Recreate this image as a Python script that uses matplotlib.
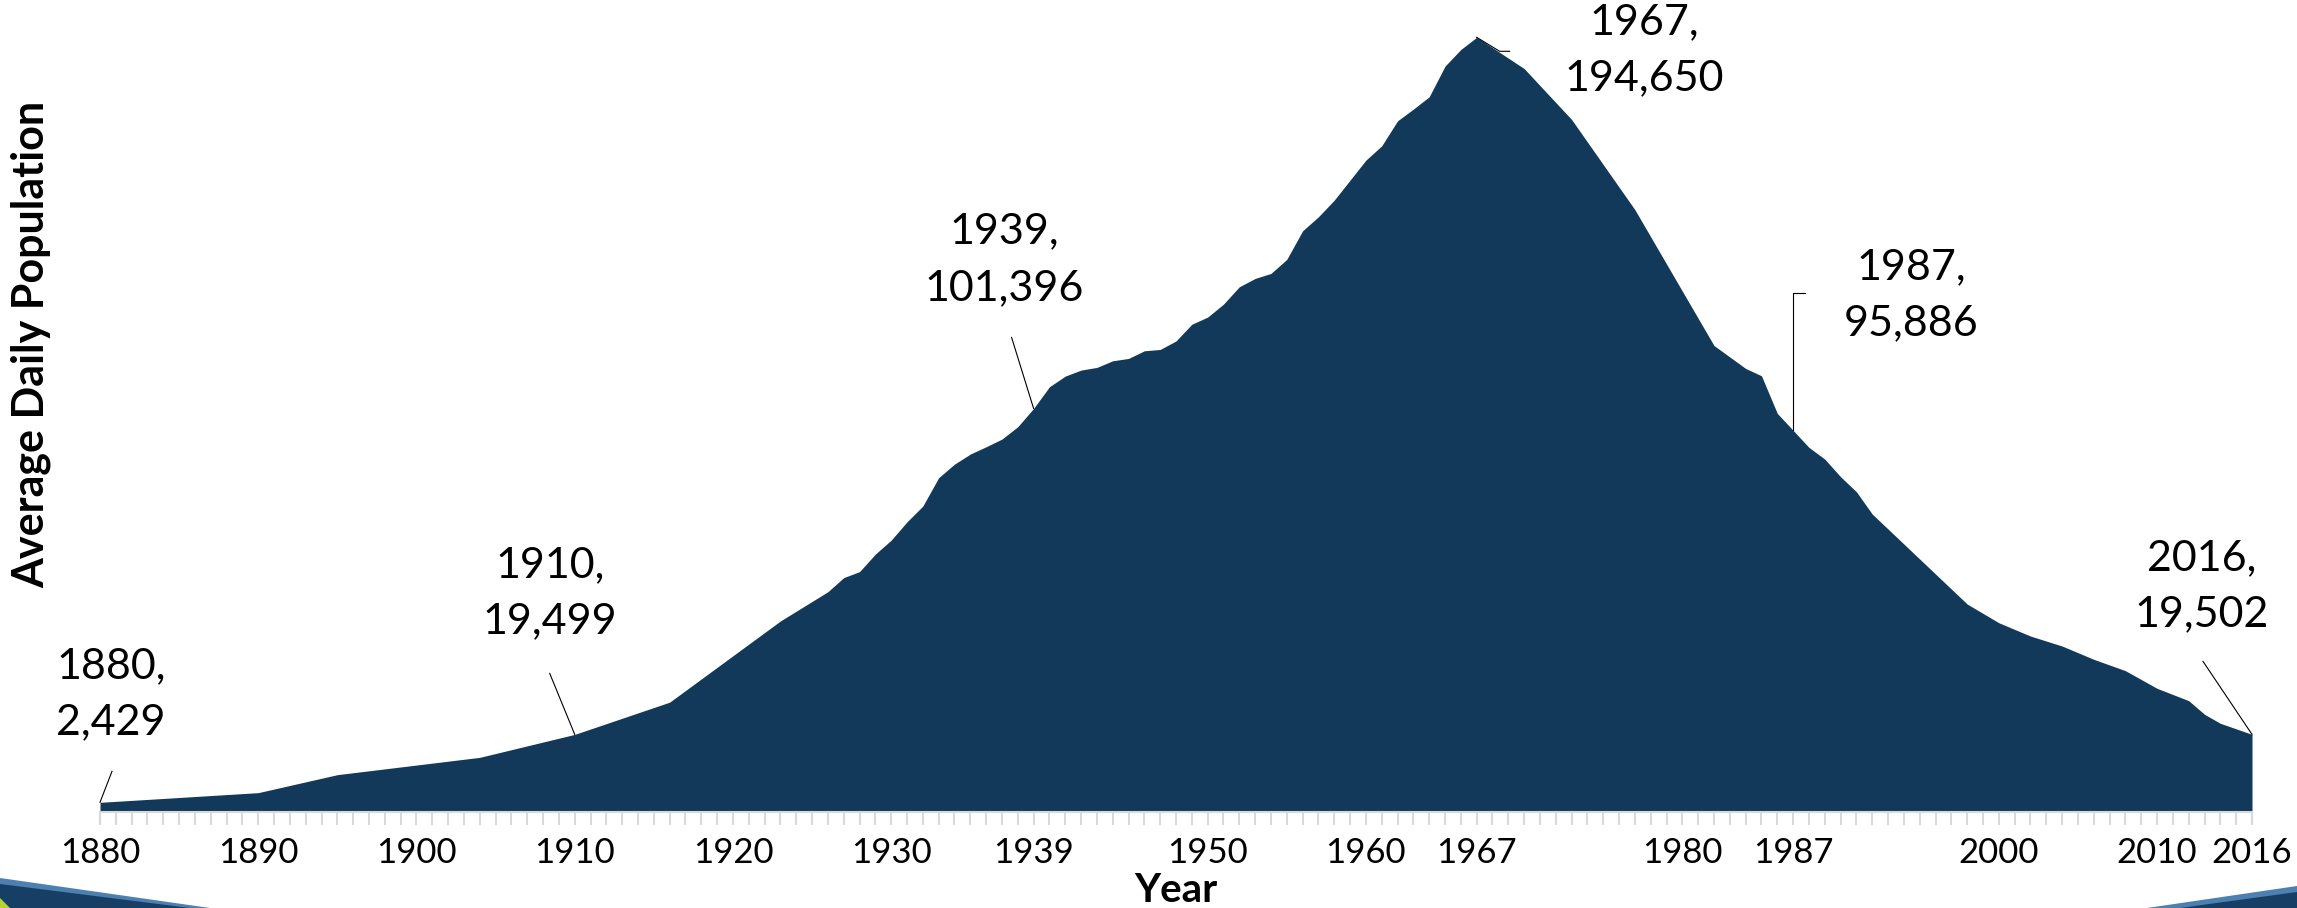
import numpy as np
import matplotlib
matplotlib.use("Agg")
from matplotlib import pyplot as plt
from matplotlib.lines import Line2D
from matplotlib.patches import Polygon
from matplotlib.ticker import MultipleLocator
from matplotlib.transforms import IdentityTransform

# average daily population
years = [1880, 1890, 1895, 1904, 1910, 1916, 1923, 1926, 1927, 1928, 1929, 1930,
         1931, 1932, 1933, 1934, 1935, 1936, 1937, 1938, 1939, 1940, 1941, 1942,
         1943, 1944, 1945, 1946, 1947, 1948, 1949, 1950, 1951, 1952, 1953, 1954,
         1955, 1956, 1957, 1958, 1959, 1960, 1961, 1962, 1963, 1964, 1965, 1966,
         1967, 1970, 1973, 1977, 1982, 1984, 1985, 1986, 1987, 1988, 1989, 1990,
         1991, 1992, 1998, 2000, 2002, 2004, 2006, 2008, 2010, 2012, 2013, 2014,
         2016]
population = [2429, 4860, 9380, 13730, 19499, 27600, 48000, 55350, 58880, 60400,
              64800, 68300, 72900, 76870, 84000, 87400, 89930, 91770, 93700, 96800,
              101396, 106840, 109520, 111030, 111700, 113370, 113960, 115880, 116220,
              118350, 122550, 124350, 127600, 131960, 134060, 135320, 138840, 146030,
              149550, 153730, 158760, 163780, 167380, 173660, 176600, 179700, 187400,
              191590, 194650, 186800, 174000, 151340, 117200, 111450, 109600, 100150,
              95886, 91610, 88670, 84230, 80460, 74860, 52250, 47550, 44210, 41700,
              38360, 35510, 31070, 27970, 24540, 22280, 19502]

tick_years = [1880, 1890, 1900, 1910, 1920, 1930, 1939, 1950, 1960, 1967, 1980,
              1987, 2000, 2010, 2016]

callout_years = [1880, 1910, 1939, 1967, 1987, 2016]
callout_values = [2429, 19499, 101396, 194650, 95886, 19502]

################################################################################

plt.rcParams['font.family'] = ['Lato', 'DejaVu Sans']

W, H = 2297, 908
fig = plt.figure(figsize=(W / 100, H / 100), dpi=100)
fig.patch.set_facecolor("white")

ax = fig.add_axes([100 / W, 1 - 812 / H, (2252 - 100) / W, (812 - 16) / H])
ax.fill_between(years, population, color="#12395a", linewidth=0)
ax.set_xlim(1880, 2016)
ax.set_ylim(0, 200000)

for side in ["top", "right", "left"]:
    ax.spines[side].set_visible(False)
ax.spines["bottom"].set_color("#d9d9d9")
ax.spines["bottom"].set_linewidth(1.5)
ax.yaxis.set_visible(False)

ax.set_xticks(tick_years)
ax.set_xticklabels([str(y) for y in tick_years], fontsize=25)
ax.xaxis.set_minor_locator(MultipleLocator(1))
ax.tick_params(axis="x", which="both", length=9, width=1.5, color="#d9d9d9", pad=9)

#------------------------------------------------------------------------------#
# callouts: text offset and leader line offsets in pixels from the data point

text_offsets = [(11, 108), (-25, 141), (-29, 149), (168, -13), (118, 135), (-50, 148)]
leader_offsets = [
    [(0, 0), (12, 31)],
    [(0, 0), (-25, 61)],
    [(0, 0), (-22, 71)],
    [(0, 0), (23, -14), (33, -14)],
    [(0, 0), (0, 137), (12, 137)],
    [(0, 0), (-49, 73)],
]

for yr, val, toff, loff in zip(callout_years, callout_values, text_offsets, leader_offsets):
    ax.annotate(f"{yr},\n{val:,}", xy=(yr, val), xytext=toff, textcoords="offset pixels",
                ha="center", va="center", fontsize=31, linespacing=1.6,
                annotation_clip=False)
    px, py = ax.transData.transform((yr, val))
    xs = [px + dx for dx, dy in loff]
    ys = [py + dy for dx, dy in loff]
    fig.add_artist(Line2D(xs, ys, color="black", linewidth=0.8,
                          transform=IdentityTransform()))

#------------------------------------------------------------------------------#

fig.text(31 / W, 1 - 344 / H, "Average Daily Population", rotation=90,
         fontsize=31, fontweight="bold", ha="center", va="center")
fig.text(1176 / W, 1 - 891 / H, "Year", fontsize=29, fontweight="bold",
         ha="center", va="center")

# template swooshes in the bottom corners
fig.add_artist(Polygon([(0, 30 / H), (210 / W, 0), (0, 0)], closed=True,
                       transform=fig.transFigure, facecolor="#4d7fb0", edgecolor="none"))
fig.add_artist(Polygon([(0, 24 / H), (190 / W, 0), (0, 0)], closed=True,
                       transform=fig.transFigure, facecolor="#173f66", edgecolor="none"))
fig.add_artist(Polygon([(0, 10 / H), (10 / W, 0), (0, 0)], closed=True,
                       transform=fig.transFigure, facecolor="#b5d334", edgecolor="none"))
fig.add_artist(Polygon([(2147 / W, 0), (1, 22 / H), (1, 0)], closed=True,
                       transform=fig.transFigure, facecolor="#4d7fb0", edgecolor="none"))
fig.add_artist(Polygon([(2180 / W, 0), (1, 16 / H), (1, 0)], closed=True,
                       transform=fig.transFigure, facecolor="#173f66", edgecolor="none"))

fig.savefig("out.png", dpi=100)
